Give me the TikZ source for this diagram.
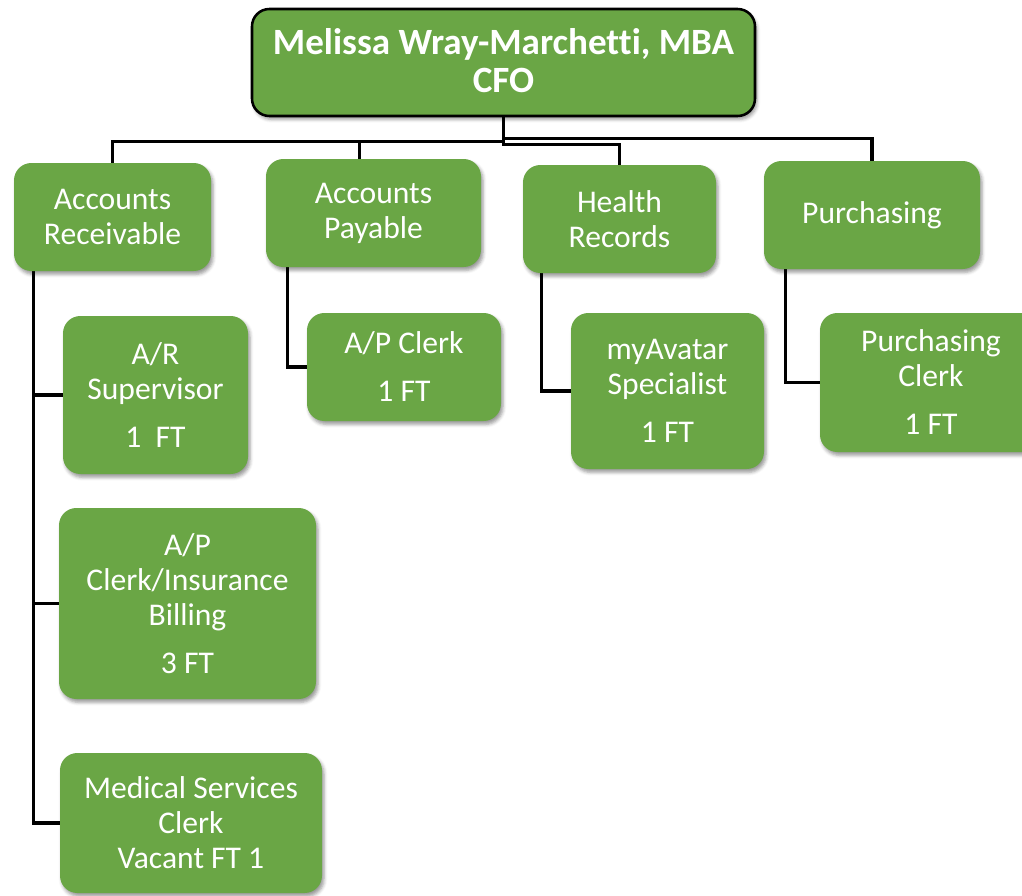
\documentclass[tikz,border=0pt]{standalone}
\usepackage{fontspec}
\setmainfont{Carlito}[Ligatures=CommonOff]
\usetikzlibrary{calc,shadows.blur,backgrounds}
\definecolor{boxgreen}{RGB}{106,166,69}
\tikzset{
  unitbox/.style={draw=none, fill=boxgreen, rounded corners=13pt, inner sep=0pt,
    blur shadow={shadow xshift=1.5pt, shadow yshift=-2.5pt, shadow opacity=40, shadow blur radius=2.5pt}},
  headbox/.style={unitbox, draw=black, line width=1.9pt},
  boxsize/.style 2 args={minimum width=#1*0.75pt, minimum height=#2*0.75pt},
  boxtext/.style={text=white, align=center, inner sep=0pt,
    font=\fontsize{23.7}{26.25}\selectfont},
  headtext/.style={text=white, align=center, inner sep=0pt,
    font=\fontsize{27.8}{28.6}\selectfont\bfseries},
  link/.style={draw=black, line width=2.4pt}
}
\begin{document}
\begin{tikzpicture}[x=0.75pt, y=-0.75pt]
  \useasboundingbox (0,0) rectangle (1022,896);

  % head of department
  \node[headbox, boxsize={503}{107}] (cfo) at (503.5,62.5) {};
  \node[headtext] (cfo-t) at (503.5,61) {Melissa Wray-Marchetti, MBA\\CFO};

  % sections
  \node[unitbox, boxsize={197}{108}] (ar) at (112.5,217) {};
  \node[boxtext] (ar-t) at (112.5,217) {Accounts\\Receivable};
  \node[unitbox, boxsize={215}{108}] (ap) at (373.5,213) {};
  \node[boxtext] (ap-t) at (373.5,213) {Accounts\\Payable};
  \node[unitbox, boxsize={193}{108}] (hr) at (619.5,219) {};
  \node[boxtext] (hr-t) at (619.5,219) {Health\\Records};
  \node[unitbox, boxsize={216}{108}] (pu) at (872,215) {};
  \node[boxtext] (pu-t) at (872,215) {Purchasing};

  % staff positions
  \node[unitbox, boxsize={185}{158}] (ars) at (155.5,395) {};
  \node[boxtext] (ars-t) at (155.5,395) {A/R\\Supervisor\\[9.75pt]1\ \ FT};
  \node[unitbox, boxsize={194}{108}] (apc) at (404,367) {};
  \node[boxtext] (apc-t) at (404,367) {A/P Clerk\\[9.75pt]1 FT};
  \node[unitbox, boxsize={193}{156}] (mya) at (667.5,391) {};
  \node[boxtext] (mya-t) at (667.5,391) {myAvatar\\Specialist\\[9.75pt]1 FT};
  \node[unitbox, boxsize={222}{139}] (pc) at (931,382.5) {};
  \node[boxtext] (pc-t) at (931,382.5) {Purchasing\\Clerk\\[9.75pt]1 FT};
  \node[unitbox, boxsize={257}{191}] (api) at (187.5,603.5) {};
  \node[boxtext] (api-t) at (187.5,603.5) {A/P\\Clerk/Insurance\\Billing\\[9.75pt]3 FT};
  \node[unitbox, boxsize={262}{140}] (msc) at (191,823) {};
  \node[boxtext] (msc-t) at (191,823) {Medical Services\\Clerk\\Vacant FT 1};

  % reporting lines
  \begin{scope}[on background layer]
    \draw[link] (cfo.south) -- ++(0,24) -| (ar.north);
    \draw[link] (cfo.south) -- ++(0,24) -| ($(ap.north west)+(94,0)$);
    \draw[link] (cfo.south) -- ++(0,27) -| (hr.north);
    \draw[link] (cfo.south) -- ++(0,21) -| (pu.north);

    \draw[link] ($(ar.south west)+(20,0)$) |- (ars.west);
    \draw[link] ($(ar.south west)+(20,0)$) |- (api.west);
    \draw[link] ($(ar.south west)+(20,0)$) |- (msc.west);
    \draw[link] ($(ap.south west)+(22,0)$) |- (apc.west);
    \draw[link] ($(hr.south west)+(19,0)$) |- (mya.west);
    \draw[link] ($(pu.south west)+(22,0)$) |- (pc.west);
  \end{scope}
\end{tikzpicture}
\end{document}
